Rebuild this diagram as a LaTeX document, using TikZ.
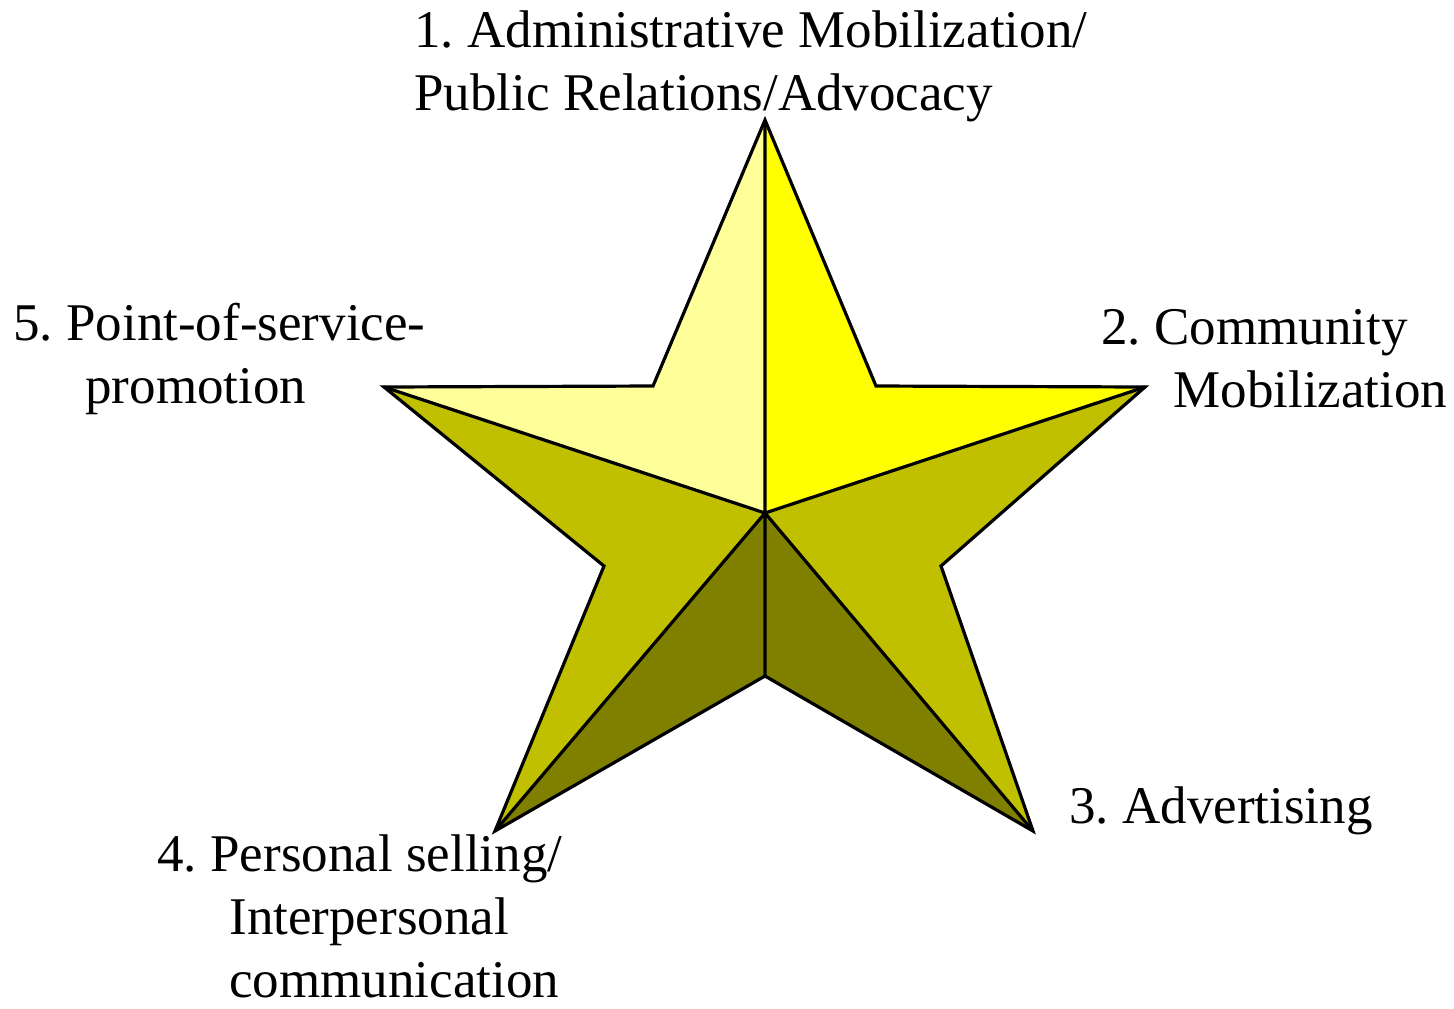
\documentclass[tikz,border=0pt]{standalone}
\usepackage{fontspec}
\setmainfont{Liberation Serif}
\frenchspacing

\definecolor{paleyel}{HTML}{FFFF99}
\definecolor{brightyel}{HTML}{FFFF00}
\definecolor{olivemid}{HTML}{C0C000}
\definecolor{olivedark}{HTML}{808000}

\newcommand\subindent{\hspace*{36pt}}

\tikzset{
  edge/.style={draw=black,line width=1.6pt},
  tag/.style={font=\fontsize{26.5}{31.5}\selectfont,inner sep=0pt,
              align=left,anchor=base west}
}

\begin{document}
\begin{tikzpicture}[x=0.5pt,y=-0.5pt]
\useasboundingbox (0,0) rectangle (1454,1008);
% star points: outer tips, inner corners, middle
\coordinate (c)  at (765,513);
\coordinate (t)  at (765,120);
\coordinate (r)  at (1145,387);
\coordinate (br) at (1033,831);
\coordinate (bl) at (495,831);
\coordinate (l)  at (384,387);
\coordinate (ir)  at (876,386);
\coordinate (ibr) at (941,566);
\coordinate (ib)  at (765,676);
\coordinate (ibl) at (604,566);
\coordinate (il)  at (653,386);
% facets
\fill[paleyel]   (c) -- (t) -- (il) -- (l) -- cycle;
\fill[brightyel] (c) -- (t) -- (ir) -- (r) -- cycle;
\fill[olivemid]  (c) -- (r) -- (ibr) -- (br) -- cycle
                 (c) -- (l) -- (ibl) -- (bl) -- cycle;
\fill[olivedark] (c) -- (br) -- (ib) -- (bl) -- cycle;
% outline and ridges
\draw[edge,line join=miter] (t) -- (ir) -- (r) -- (ibr) -- (br) -- (ib)
      -- (bl) -- (ibl) -- (l) -- (il) -- cycle;
\draw[edge,line join=round] (c) -- (t) (c) -- (r) (c) -- (br)
      (c) -- (bl) (c) -- (l) (c) -- (ib);
% labels (anchored at the baseline of the last line)
\node[tag] (admin) at (414,110) {1. Administrative Mobilization/\\Public Relations/Advocacy};
\node[tag] (commu) at (1101,407) {2. Community\\\subindent Mobilization};
\node[tag] (adver) at (1069,823) {3. Advertising};
\node[tag] (perso) at (157,997) {4. Personal selling/\\\subindent Interpersonal\\\subindent communication};
\node[tag] (point) at (13,403) {5. Point-of-service-\\\subindent promotion};
\end{tikzpicture}
\end{document}
